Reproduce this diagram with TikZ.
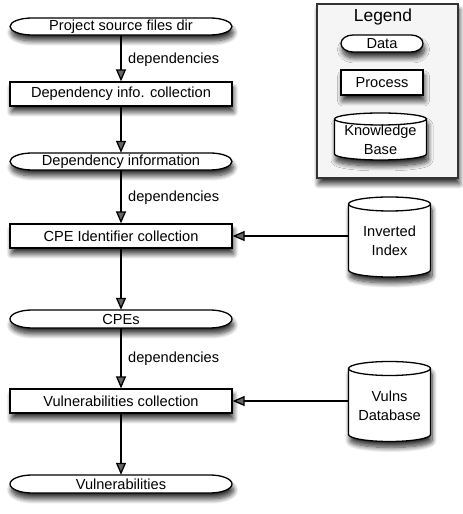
\documentclass[tikz,border=0pt]{standalone}
\usepackage{fontspec}
\setmainfont{Liberation Sans}
\usetikzlibrary{arrows.meta,shadows.blur}
\newcommand\drawcyl[5]{%
  \path[cylpath] ({#1-#3},{#2+#4-#5}) -- ({#1-#3},{#2-#4+#5})
    arc[start angle=180,end angle=360,x radius=#3,y radius=#5]
    -- ({#1+#3},{#2+#4-#5})
    arc[start angle=0,end angle=180,x radius=#3,y radius=#5] -- cycle;
  \draw[line width=1.3pt] ({#1-#3},{#2+#4-#5})
    arc[start angle=180,end angle=360,x radius=#3,y radius=#5];}
% data shape: cx, cy, half width, half height, end radius
\newcommand\drawdata[5]{%
  \path[cylpath] ({#1-#3+#5},{#2+#4}) -- ({#1+#3-#5},{#2+#4})
    arc[start angle=90,end angle=-90,x radius=#5,y radius=#4]
    -- ({#1-#3+#5},{#2-#4})
    arc[start angle=270,end angle=90,x radius=#5,y radius=#4] -- cycle;}
\tikzset{
  shad/.style={blur shadow={shadow xshift=1.5pt,shadow yshift=-6pt,shadow blur radius=5pt,shadow blur steps=10,shadow opacity=80}},
  txt/.style={font=\fontsize{14.6}{19}\selectfont},
  datanode/.style={rectangle,inner sep=0pt,txt},
  procnode/.style={rectangle,draw,line width=1.3pt,fill=white,shad,minimum height=24pt,inner sep=0pt,txt},
  cylpath/.style={draw,line width=1.3pt,fill=white,shad},
  cyltext/.style={align=center,inner sep=0pt,txt},
  arr/.style={line width=1.3pt,-{Triangle[length=12pt,width=10pt]}},
  lbl/.style={anchor=west,inner sep=0pt,txt}
}
\begin{document}
\begin{tikzpicture}[x=1pt,y=1pt]
\useasboundingbox (0,0) rectangle (463,514);
% legend
\draw[line width=1.5pt,draw=black!80,fill=black!4,shad] (317,510) rectangle (458,336);
\node[inner sep=0pt,font=\fontsize{17.4}{20}\selectfont] (legtitle) at (383,497) {Legend};
\drawdata{382}{470.5}{41}{8.5}{12}
\node[datanode,minimum width=82pt,minimum height=17pt] (legdata) at (382,470.5) {Data};
\node[procnode,minimum width=82pt,minimum height=25pt] (legproc) at (382,431.5) {Process};
\drawcyl{380.5}{377.5}{46}{23.5}{6}
\node[cyltext] (legkb) at (380.5,374) {Knowledge\\Base};
% main chain
\drawdata{121}{487.5}{111}{8.5}{22}
\node[datanode,minimum width=222pt,minimum height=17pt] (d1) at (121,487.5) {Project source files dir};
\node[procnode,minimum width=222pt] (p1) at (121,420) {Dependency info. collection};
\drawdata{121}{352.5}{111}{8.5}{22}
\node[datanode,minimum width=222pt,minimum height=17pt] (d2) at (121,352.5) {Dependency information};
\node[procnode,minimum width=222pt] (p2) at (121,278) {CPE Identifier collection};
\drawdata{121}{195}{111}{9}{22}
\node[datanode,minimum width=222pt,minimum height=18pt] (d3) at (121,195) {CPEs};
\node[procnode,minimum width=222pt] (p3) at (121,113) {Vulnerabilities collection};
\drawdata{121}{30}{111}{9}{22}
\node[datanode,minimum width=222pt,minimum height=18pt] (d4) at (121,30) {Vulnerabilities};
% cylinders
\drawcyl{389.5}{277}{41}{40}{7}
\node[cyltext,minimum width=82pt,minimum height=72pt] (inv) at (389.5,273) {Inverted\\Index};
\drawcyl{389.5}{112.5}{41}{40}{7}
\node[cyltext,minimum width=82pt,minimum height=72pt] (vdb) at (389.5,108.5) {Vulns\\Database};
% arrows
\draw[arr] (d1) -- (p1);
\draw[arr] (p1) -- (d2);
\draw[arr] (d2) -- (p2);
\draw[arr] (p2) -- (d3);
\draw[arr] (d3) -- (p3);
\draw[arr] (p3) -- (d4);
\draw[arr] (inv.west |- p2.east) -- (p2.east);
\draw[arr] (vdb.west |- p3.east) -- (p3.east);
% labels
\node[lbl] (l1) at (128,454) {dependencies};
\node[lbl] (l2) at (128,316) {dependencies};
\node[lbl] (l3) at (128,155) {dependencies};
\end{tikzpicture}
\end{document}
